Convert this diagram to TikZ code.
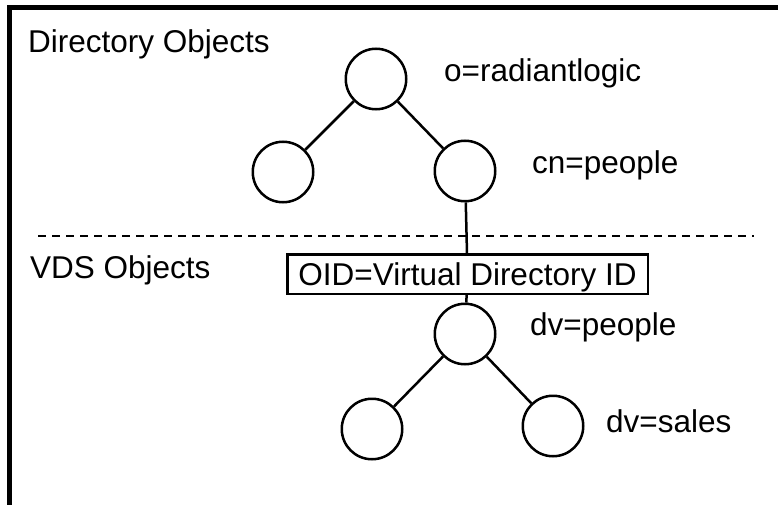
\documentclass[tikz,border=0pt]{standalone}
\usepackage{fontspec}
\setmainfont{Liberation Sans}
\tikzset{
  vtx/.style={draw, circle, line width=2.5pt, minimum size=60.5pt, inner sep=0pt},
  oidbox/.style={draw, rectangle, line width=2.5pt, minimum width=360.5pt, minimum height=39.5pt, inner sep=0pt, text depth=0pt},
  lbl/.style={anchor=base west, inner sep=0pt},
}
\begin{document}
\begin{tikzpicture}[x=1pt, y=-1pt, font=\fontsize{31.5}{36}\selectfont]
      \useasboundingbox[fill=white] (0,0) rectangle (778,505);
      \draw[line width=5pt] (9.5,505) -- (9.5,7.5) -- (778,7.5);
      \draw
        (376,79) node[vtx] (root){}
        (283,172) node[vtx] (other){}
        (465,171) node[vtx] (people){}
        (467.5,274) node[oidbox] (oid){OID=Virtual Directory ID}
        (465,334) node[vtx] (dvpeople){}
        (372,429) node[vtx] (dvleft){}
        (553,426) node[vtx] (dvsales){};
      \draw
        (28,53) node[lbl] (dirlbl){Directory Objects}
        (444,82) node[lbl] (rootlbl){o=radiantlogic}
        (532,173) node[lbl] (peoplelbl){cn=people}
        (30,278) node[lbl] (vdslbl){VDS Objects}
        (530,335) node[lbl] (dvpeoplelbl){dv=people}
        (606,432) node[lbl] (dvsaleslbl){dv=sales};
      \coordinate (sepl) at (38,236);
      \coordinate (sepr) at (754,236);
      \draw[line width=2pt, dash pattern=on 8pt off 6pt] (sepl) -- (sepr);
      \begin{scope}[line width=2.5pt]
        \draw (root) to (other);
        \draw (root) to (people);
        \draw (people) to (oid);
        \draw (oid) to (dvpeople);
        \draw (dvpeople) to (dvleft);
        \draw (dvpeople) to (dvsales);
      \end{scope}
    \end{tikzpicture}
\end{document}
